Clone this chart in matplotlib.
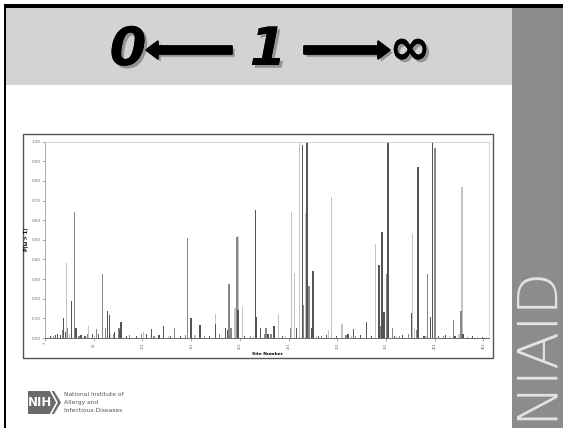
import matplotlib.pyplot as plt
import matplotlib.patches as mpatches
import matplotlib.patheffects as pe
import numpy as np

# P(omega > 1) per site, three series
dark_sites = [7, 12, 14, 17, 20, 22, 28, 32, 33, 38, 42, 50, 56, 65, 67, 72, 78, 79, 85, 95,
              105, 110, 118, 123, 130, 140, 151, 160, 170, 176, 186, 188, 199, 206, 217, 218,
              222, 230, 236, 245, 259, 265, 270, 275, 276, 282, 290, 300, 312, 318, 325, 331,
              336, 344, 347, 349, 353, 354, 360, 368, 377, 384, 390, 397, 399, 405, 412, 422,
              430, 440, 450]
dark_vals = [0.01, 0.015, 0.02, 0.015, 0.104, 0.03, 0.19, 0.052, 0.05, 0.015, 0.01, 0.02, 0.02,
             0.137, 0.115, 0.03, 0.04, 0.083, 0.01, 0.01, 0.02, 0.045, 0.015, 0.06, 0.01, 0.01,
             0.104, 0.065, 0.01, 0.07, 0.05, 0.04, 0.143, 0.01, 0.652, 0.105, 0.05, 0.02, 0.06,
             0.01, 0.05, 0.985, 1.0, 0.05, 0.34, 0.01, 0.015, 0.01, 0.02, 0.045, 0.015, 0.08,
             0.01, 0.37, 0.54, 0.13, 1.0, 0.22, 0.01, 0.015, 0.125, 0.873, 0.01, 0.105, 1.0,
             0.01, 0.015, 0.01, 0.02, 0.01, 0.005]

mid_sites = [10, 19, 24, 31, 36, 45, 54, 60, 63, 71, 77, 88, 100, 113, 134, 145, 147, 150, 165,
             180, 190, 192, 198, 212, 226, 228, 233, 253, 266, 272, 285, 310, 320, 345, 352, 358,
             365, 374, 382, 394, 401, 402, 410, 420, 428, 435]
mid_vals = [0.01, 0.04, 0.05, 0.64, 0.01, 0.02, 0.045, 0.325, 0.05, 0.02, 0.05, 0.015, 0.02,
            0.01, 0.05, 0.015, 0.508, 0.08, 0.01, 0.02, 0.275, 0.05, 0.513, 0.01, 0.02, 0.05,
            0.02, 0.05, 0.17, 0.267, 0.01, 0.015, 0.01, 0.06, 0.326, 0.05, 0.01, 0.02, 0.04,
            0.325, 0.97, 0.97, 0.01, 0.09, 0.135, 0.005]

light_sites = [8, 23, 26, 46, 52, 68, 90, 102, 128, 155, 176, 196, 200, 204, 215, 227, 241, 248,
               254, 257, 262, 269, 280, 292, 295, 306, 316, 340, 362, 378, 380, 392, 416, 426,
               429, 445]
light_vals = [0.005, 0.384, 0.02, 0.06, 0.01, 0.02, 0.005, 0.03, 0.01, 0.015, 0.12, 0.155, 0.52,
              0.16, 0.01, 0.03, 0.12, 0.01, 0.643, 0.333, 1.0, 0.635, 0.01, 0.04, 0.717, 0.07,
              0.01, 0.48, 0.01, 0.53, 0.05, 0.01, 0.01, 0.02, 0.768, 0.005]

x_ticks = [1, 51, 101, 151, 201, 251, 301, 351, 401, 451]
y_ticks = [0.0, 0.1, 0.2, 0.3, 0.4, 0.5, 0.6, 0.7, 0.8, 0.9, 1.0]

W, H = 563, 428
fig = plt.figure(figsize=(W / 100, H / 100), dpi=100)

# slide decorations in pixel coordinates
bg = fig.add_axes([0, 0, 1, 1], zorder=0)
bg.set_xlim(0, W)
bg.set_ylim(H, 0)
bg.axis('off')

bg.add_patch(mpatches.Rectangle((6, 7), 506, 78, color='#d3d3d3', lw=0))
bg.add_patch(mpatches.Rectangle((512, 7), 51, 421, color='#8c8c8c', lw=0))
bg.add_patch(mpatches.Rectangle((4, 4), 559, 3.5, color='black', lw=0))
bg.add_patch(mpatches.Rectangle((4, 4), 2.2, 424, color='black', lw=0))

shadow = [pe.withSimplePatchShadow(offset=(2, -2), shadow_rgbFace='#555555', alpha=0.5),
          pe.Normal()]
title_kw = dict(ha='center', va='center', color='black', fontweight='bold',
                fontstyle='italic', family='DejaVu Sans', path_effects=shadow)
bg.text(128, 50, '0', fontsize=38, **title_kw)
bg.text(268, 50, '1', fontsize=38, **title_kw)
bg.text(410, 50, '\u221e', fontsize=36, **title_kw)
for x0, dx in [(232, -86), (304, 86)]:
    bg.add_patch(mpatches.FancyArrow(x0, 50, dx, 0, width=8, head_width=18, head_length=12,
                                     length_includes_head=True, color='black',
                                     path_effects=shadow))

bg.text(536, 342, 'NIAID', rotation=90, ha='center', va='center', fontsize=40,
        color='#e4e4e4', fontweight='light', family='DejaVu Sans')

# NIH logo
bg.add_patch(mpatches.Polygon([(28, 391), (54, 391), (61, 402.5), (54, 414), (28, 414)],
                              closed=True, color='#6a6a6a', lw=0))
bg.plot([51, 57, 51], [391.5, 402.5, 413.5], color='white', lw=1.2)
bg.text(40, 403, 'NIH', ha='center', va='center', color='white', fontsize=8.5,
        fontweight='bold', family='DejaVu Sans')
for yy, line in zip([394, 402.5, 411], ['National Institute of', 'Allergy and',
                                        'Infectious Diseases']):
    bg.text(64, yy, line, ha='left', va='center', fontsize=4.3, color='#555555')

# chart frame
bg.add_patch(mpatches.Rectangle((23, 134), 470, 224, facecolor='white',
                                edgecolor='#555555', lw=1))

# chart itself
ax = fig.add_axes([45 / W, 1 - 338 / H, 444 / W, (338 - 141.7) / H], zorder=1)
ax.bar(light_sites, light_vals, width=1.3, color='#c4c4c4', lw=0)
ax.bar(mid_sites, mid_vals, width=1.3, color='#878787', lw=0)
ax.bar(dark_sites, dark_vals, width=1.3, color='#555555', lw=0)

ax.set_xlim(1, 456.8)
ax.set_ylim(0, 1.0)
ax.set_xticks(x_ticks)
ax.set_xticklabels([str(t) for t in x_ticks], rotation=90, fontsize=2.5, color='#555555')
ax.set_yticks(y_ticks)
ax.set_yticklabels(['%.2f' % v for v in y_ticks], fontsize=3, color='#555555')
ax.tick_params(length=2, width=0.4, pad=1, colors='#666666')
ax.set_xlabel('Site Number', fontsize=3.2, fontweight='bold', labelpad=2)
ax.set_ylabel('P(\u03c9 > 1)', fontsize=3.5, fontweight='bold', labelpad=2)
for side in ['top', 'right']:
    ax.spines[side].set_color('#cccccc')
    ax.spines[side].set_linewidth(0.6)
ax.spines['left'].set_color('#888888')
ax.spines['left'].set_linewidth(0.5)
ax.spines['bottom'].set_color('#555555')
ax.spines['bottom'].set_linewidth(0.6)

fig.savefig('out.png', dpi=100)
